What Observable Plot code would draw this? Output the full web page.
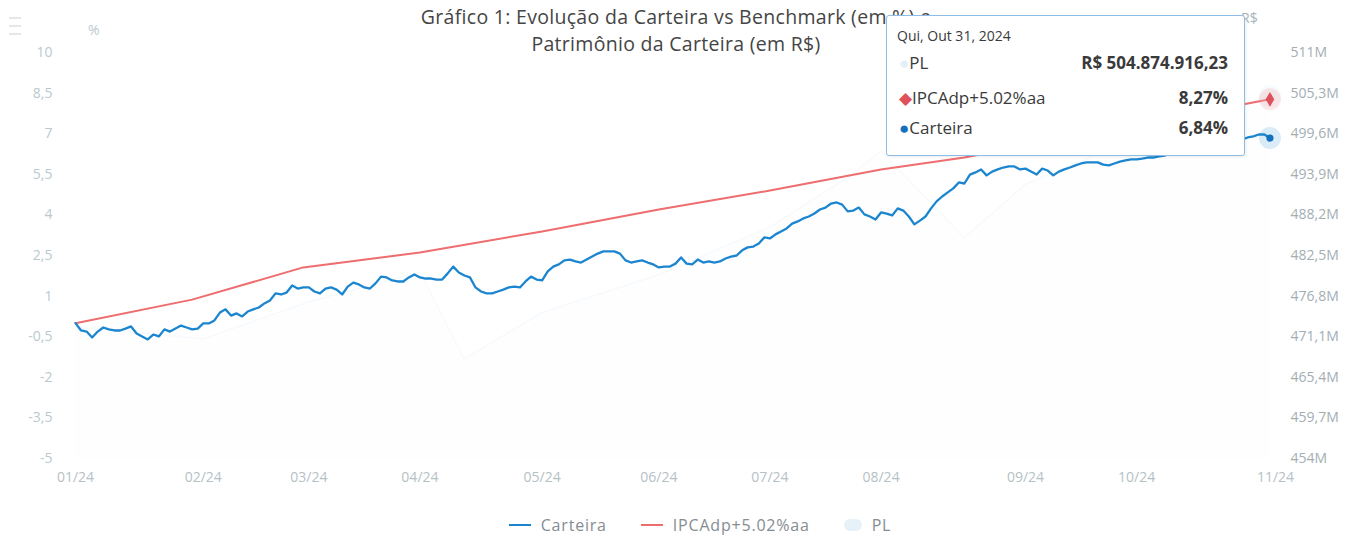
<!DOCTYPE html>
<html>
<head>
<meta charset="utf-8">
<script src="https://cdn.jsdelivr.net/npm/d3@7"></script>
<script src="https://cdn.jsdelivr.net/npm/@observablehq/plot@0.6"></script>
<style>
  html, body { margin: 0; padding: 0; background: #fff; }
  #wrap { position: relative; width: 1360px; height: 537px; font-family: "Open Sans", sans-serif; overflow: hidden; }
  #chart { position: absolute; left: 0; top: 0; }
  .title { position: absolute; left: 0; width: 1352px; text-align: center; font-size: 19.5px; letter-spacing: 0.3px; color: #454545; white-space: nowrap; }
  .axt { position: absolute; font-size: 14px; }
  #menu { position: absolute; left: 9px; top: 17px; width: 12px; }
  #menu div { height: 2px; background: #e3e7e9; margin-bottom: 6px; }
  #tip { position: absolute; left: 886px; top: 15px; width: 357px; height: 139px; background: #fff; border: 1px solid #8dbce6; border-radius: 3px; box-shadow: 1px 1px 3px rgba(0,0,0,0.08); color: #3a3a3a; }
  #tip .date { position: absolute; left: 10px; top: 10px; font-size: 14px; }
  #tip .row { position: absolute; left: 12px; right: 16px; height: 24px; font-size: 17px; line-height: 24px; }
  #tip .row .v { position: absolute; right: 0; top: 0; font-weight: 700; }
  #legend { position: absolute; top: 514px; left: 0; width: 1360px; padding-left: 40px; box-sizing: border-box; display: flex; justify-content: center; align-items: center; font-size: 16px; letter-spacing: 0.8px; color: #858d92; }
  #legend .item { display: flex; align-items: center; margin: 0 17px; }
  #legend .sym { width: 22px; height: 2px; margin-right: 10px; }
</style>
</head>
<body>
<div id="wrap">
  <div id="chart"></div>
  <div id="menu"><div></div><div></div><div></div></div>
  <div class="title" style="top:3px;">Gráfico 1: Evolução da Carteira vs Benchmark (em %) e</div>
  <div class="title" style="top:30px;">Patrimônio da Carteira (em R$)</div>
  <div class="axt" style="left:88px; top:20px; color:#b9cacf;">%</div>
  <div class="axt" style="left:1241px; top:8px; color:#a9b3b8;">R$</div>
  <div id="tip"></div>
  <div id="legend"></div>
</div>
<script>
// ---- data ----
// month tick labels and the trading-day index where each month begins
const monthLabels = ["01/24","02/24","03/24","04/24","05/24","06/24","07/24","08/24","09/24","10/24","11/24"];
const monthStarts = [0, 23, 42, 62, 84, 105, 125, 145, 171, 191, 216];

// Carteira cumulative return (%), one value per trading day
const carteira = [
  0, -0.27, -0.31, -0.53, -0.31, -0.16, -0.23, -0.27, -0.27, -0.20, -0.12, -0.38, -0.49, -0.60, -0.42, -0.49, -0.23, -0.31, -0.20, -0.09, -0.16, -0.23, -0.20,
  -0.01, -0.01, 0.10, 0.39, 0.51, 0.28, 0.36, 0.25, 0.43, 0.51, 0.58, 0.73, 0.84, 1.10, 1.06, 1.13, 1.39, 1.28, 1.32,
  1.32, 1.17, 1.10, 1.28, 1.32, 1.24, 1.06, 1.35, 1.50, 1.43, 1.32, 1.28, 1.47, 1.72, 1.69, 1.58, 1.54, 1.54, 1.69, 1.80,
  1.69, 1.65, 1.65, 1.61, 1.61, 1.84, 2.09, 1.87, 1.76, 1.69, 1.32, 1.17, 1.10, 1.10, 1.17, 1.24, 1.32, 1.35, 1.32, 1.54, 1.72, 1.61,
  1.58, 1.91, 2.09, 2.17, 2.32, 2.35, 2.28, 2.24, 2.35, 2.46, 2.57, 2.65, 2.65, 2.65, 2.57, 2.32, 2.24, 2.28, 2.32, 2.24, 2.17,
  2.06, 2.09, 2.09, 2.20, 2.43, 2.20, 2.17, 2.35, 2.24, 2.28, 2.24, 2.28, 2.39, 2.46, 2.50, 2.69, 2.80, 2.83, 2.94, 3.17,
  3.13, 3.28, 3.39, 3.50, 3.68, 3.76, 3.87, 3.94, 4.05, 4.20, 4.27, 4.42, 4.46, 4.38, 4.13, 4.16, 4.27, 4.02, 3.94, 3.83,
  4.09, 4.05, 3.98, 4.24, 4.16, 3.94, 3.65, 3.79, 3.94, 4.24, 4.50, 4.68, 4.83, 4.98, 5.20, 5.16, 5.49, 5.57, 5.68, 5.46, 5.60, 5.68, 5.75, 5.79, 5.79, 5.68,
  5.71, 5.60, 5.49, 5.71, 5.64, 5.46, 5.60, 5.68, 5.75, 5.83, 5.90, 5.94, 5.94, 5.94, 5.86, 5.83, 5.90, 5.97, 6.01, 6.05,
  6.05, 6.08, 6.12, 6.12, 6.16, 6.19, 6.27, 6.31, 6.23, 6.34, 6.42, 6.38, 6.49, 6.53, 6.45, 6.56, 6.64, 6.60, 6.71, 6.79, 6.86, 6.90, 6.97, 6.97, 6.84
];

// IPCAdp + 5.02% a.a. benchmark (%), at the days where its slope changes
const ipcaDays = [0, 21, 41, 62, 84, 105, 125, 145, 160, 215];
const ipca     = [0, 0.87, 2.06, 2.61, 3.39, 4.20, 4.90, 5.68, 6.12, 8.27];

// PL (portfolio net worth, R$ millions), estimated
const plDays = [0, 23, 42, 62, 70, 84, 105, 125, 140, 145, 160, 171, 191, 215];
const pl     = [472.5, 470.8, 476.0, 480.2, 468.0, 474.5, 479.8, 486.5, 494.0, 497.2, 485.0, 492.5, 499.0, 504.87491623];

// axes
const leftTicks   = [10, 8.5, 7, 5.5, 4, 2.5, 1, -0.5, -2, -3.5, -5];
const rightLabels = ["511M","505,3M","499,6M","493,9M","488,2M","482,5M","476,8M","471,1M","465,4M","459,7M","454M"];
const plDomain = [454, 511];   // R$ millions matching the left axis range [-5, 10]

const seriesColors = {carteira: "#1b86cf", ipca: "#ee6d6f", pl: "#d9ecf7"};

// ---- build ----
const carteiraRows = carteira.map((v, i) => ({i, v}));
const ipcaRows = ipcaDays.map((d, k) => ({i: d, v: ipca[k]}));
const plToPct = d3.scaleLinear().domain(plDomain).range([-5, 10]);
const plRows = plDays.map((d, k) => ({i: d, v: plToPct(pl[k])}));
const lastC = carteiraRows[carteiraRows.length - 1];
const lastI = ipcaRows[ipcaRows.length - 1];
const lastP = plRows[plRows.length - 1];

const fmtPct = d => String(d).replace(".", ",");

const chart = Plot.plot({
  width: 1360,
  height: 500,
  marginLeft: 75,
  marginRight: 85,
  marginTop: 52,
  marginBottom: 42,
  style: {fontFamily: "'Open Sans', sans-serif", fontSize: "14px", background: "transparent"},
  x: {domain: [0, 216], axis: null},
  y: {domain: [-5, 10], axis: null},
  marks: [
    Plot.areaY(plRows, {x: "i", y1: -5, y2: "v", fill: seriesColors.pl, fillOpacity: 0.04}),
    Plot.line(plRows, {x: "i", y: "v", stroke: seriesColors.pl, strokeOpacity: 0.22, strokeWidth: 1.5}),
    Plot.axisY({ticks: leftTicks, tickFormat: fmtPct, tickSize: 0, tickPadding: 23, color: "#b9cacf", fontSize: 14, label: null}),
    Plot.axisY({anchor: "right", ticks: leftTicks, tickFormat: d => rightLabels[leftTicks.indexOf(d)], tickSize: 0, tickPadding: 15, color: "#a3aeb3", fontSize: 14, label: null}),
    Plot.axisX({ticks: monthStarts, tickFormat: d => monthLabels[monthStarts.indexOf(d)], tickSize: 0, tickPadding: 14, color: "#b5c1c5", fontSize: 14, label: null}),
    Plot.line(ipcaRows, {x: "i", y: "v", stroke: seriesColors.ipca, strokeWidth: 2}),
    Plot.line(carteiraRows, {x: "i", y: "v", stroke: seriesColors.carteira, strokeWidth: 2.3, strokeLinejoin: "round"}),
    Plot.dot([lastP], {x: "i", y: "v", r: 11, fill: seriesColors.pl, fillOpacity: 0.2}),
    Plot.dot([lastI], {x: "i", y: "v", r: 11, fill: seriesColors.ipca, fillOpacity: 0.16}),
    Plot.dot([lastC], {x: "i", y: "v", r: 11, fill: seriesColors.carteira, fillOpacity: 0.16}),
    Plot.dot([lastI], {x: "i", y: "v", r: 4.5, symbol: "diamond", fill: "#e0505a"}),
    Plot.dot([lastC], {x: "i", y: "v", r: 3.6, fill: "#1470bd"})
  ]
});
document.getElementById("chart").appendChild(chart);

// tooltip (hover state on the last day)
const tip = document.getElementById("tip");
const fmtBRL = v => "R$ " + d3.format(",.2f")(v).replace(/,/g, "#").replace(".", ",").replace(/#/g, ".");
tip.innerHTML = `
  <div class="date">Qui, Out 31, 2024</div>
  <div class="row" style="top:35px;"><span style="color:#e4eff6">●</span>PL<span class="v">${fmtBRL(pl[pl.length - 1] * 1e6)}</span></div>
  <div class="row" style="top:70px;"><span style="color:#e0505a">◆</span>IPCAdp+5.02%aa<span class="v">${fmtPct(lastI.v.toFixed(2))}%</span></div>
  <div class="row" style="top:100px;"><span style="color:#1470bd">●</span>Carteira<span class="v">${fmtPct(lastC.v.toFixed(2))}%</span></div>`;

// legend
const legend = document.getElementById("legend");
[["Carteira", seriesColors.carteira, 1], ["IPCAdp+5.02%aa", seriesColors.ipca, 1], ["PL", "#d6e9f4", 0.6]].forEach(([name, c, o]) => {
  const it = document.createElement("div");
  it.className = "item";
  it.innerHTML = `<div class="sym" style="background:${c};opacity:${o};${name === "PL" ? "height:12px;width:18px;border-radius:6px;" : ""}"></div><span>${name}</span>`;
  legend.appendChild(it);
});
</script>
</body>
</html>
